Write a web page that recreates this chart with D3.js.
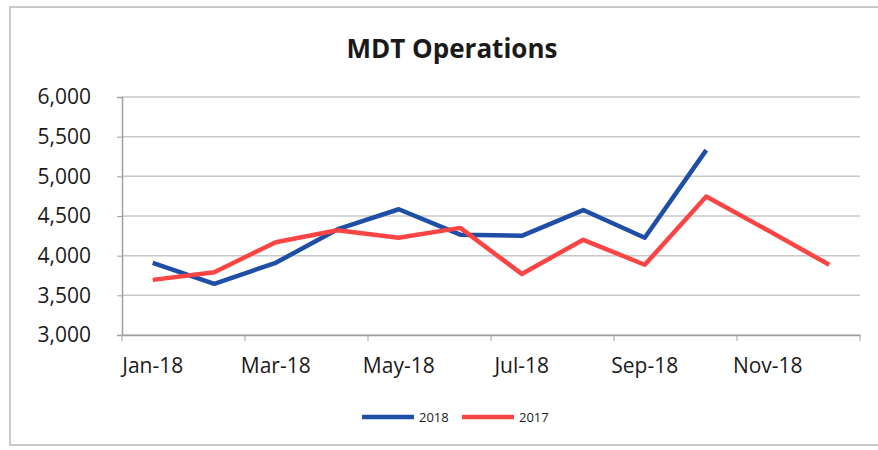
<!DOCTYPE html>
<html>
<head>
<meta charset="utf-8">
<script src="https://cdn.jsdelivr.net/npm/d3@7"></script>
<style>
  body { margin: 0; background: #fff; }
  text { font-family: "Open Sans", sans-serif; fill: #1a1a1a; }
</style>
</head>
<body>
<svg id="chart" width="878" height="450"></svg>
<script>
// months shown on the x axis
var months = ["Jan-18", "Feb-18", "Mar-18", "Apr-18", "May-18", "Jun-18",
              "Jul-18", "Aug-18", "Sep-18", "Oct-18", "Nov-18", "Dec-18"];

// series values
var ops2018 = [3910, 3645, 3910, 4330, 4585, 4265, 4250, 4575, 4225, 5330];
var ops2017 = [3695, 3790, 4170, 4320, 4225, 4350, 3770, 4200, 3885, 4745, 4320, 3885];

var yTicks = [3000, 3500, 4000, 4500, 5000, 5500, 6000];

var seriesNames = ["2018", "2017"];
var seriesColors = ["#1f4ea6", "#fb4545"];

var svg = d3.select("#chart");

// chart border
svg.append("rect")
    .attr("x", 10)
    .attr("y", 7)
    .attr("width", 900)
    .attr("height", 438)
    .attr("fill", "none")
    .attr("stroke", "#b8b8b8")
    .attr("stroke-width", 1.5);

var plotLeft = 122, plotRight = 860, plotTop = 97, plotBottom = 335;

var x = d3.scaleBand()
    .domain(months)
    .range([plotLeft, plotRight]);

var y = d3.scaleLinear()
    .domain([3000, 6000])
    .range([plotBottom, plotTop]);

// title
svg.append("text")
    .attr("x", 452)
    .attr("y", 58)
    .attr("text-anchor", "middle")
    .style("font-size", "26px")
    .style("font-weight", "bold")
    .text("MDT Operations");

// gridlines
svg.append("g")
    .selectAll("line")
    .data(yTicks)
    .enter()
    .append("line")
    .attr("x1", plotLeft)
    .attr("x2", plotRight)
    .attr("y1", function (d) { return y(d); })
    .attr("y2", function (d) { return y(d); })
    .attr("stroke", "#c8c8c8")
    .attr("stroke-width", 1.5);

// y axis
var yAxis = svg.append("g")
    .attr("transform", "translate(" + plotLeft + ",0)")
    .call(d3.axisLeft(y)
        .tickValues(yTicks)
        .tickSize(5)
        .tickPadding(26)
        .tickFormat(d3.format(",")));

yAxis.select(".domain").attr("stroke", "#a0a0a0").attr("stroke-width", 1.5);
yAxis.selectAll(".tick line").attr("stroke", "#a0a0a0");
yAxis.selectAll("text")
    .style("font-size", "21px")
    .attr("fill", "#111");

// x axis, labels every second month
var xAxis = svg.append("g")
    .attr("transform", "translate(0," + plotBottom + ")")
    .call(d3.axisBottom(x)
        .tickValues(months.filter(function (d, i) { return i % 2 == 0; }))
        .tickSize(0)
        .tickPadding(23));

xAxis.select(".domain").attr("stroke", "#a0a0a0").attr("stroke-width", 1.5);
xAxis.selectAll("text")
    .style("font-size", "21px")
    .attr("fill", "#111");

// tick marks between the category pairs
var tickPos = months.filter(function (d, i) { return i % 2 == 0; })
    .map(function (d) { return x(d); })
    .concat([plotRight]);

svg.append("g")
    .selectAll("line")
    .data(tickPos)
    .enter()
    .append("line")
    .attr("x1", function (d) { return d; })
    .attr("x2", function (d) { return d; })
    .attr("y1", plotBottom)
    .attr("y2", plotBottom + 6)
    .attr("stroke", "#a0a0a0");

// lines
var line = d3.line()
    .x(function (d, i) { return x(months[i]) + x.bandwidth() / 2; })
    .y(function (d) { return y(d); });

[ops2018, ops2017].forEach(function (s, k) {
    svg.append("path")
        .datum(s)
        .attr("d", line)
        .attr("fill", "none")
        .attr("stroke", seriesColors[k])
        .attr("stroke-width", 4.5)
        .attr("stroke-linejoin", "round");
});

// legend
var legend = svg.selectAll(".legend")
    .data(seriesNames)
    .enter()
    .append("g")
    .attr("class", "legend")
    .attr("transform", function (d, i) {
        return "translate(" + (362 + i * 100) + ",417)";
    });

legend.append("line")
    .attr("x1", 0)
    .attr("x2", 52)
    .attr("stroke", function (d, i) { return seriesColors[i]; })
    .attr("stroke-width", 4.5);

legend.append("text")
    .attr("x", 57)
    .attr("y", 5)
    .style("font-size", "13px")
    .text(function (d) { return d; });
</script>
</body>
</html>
